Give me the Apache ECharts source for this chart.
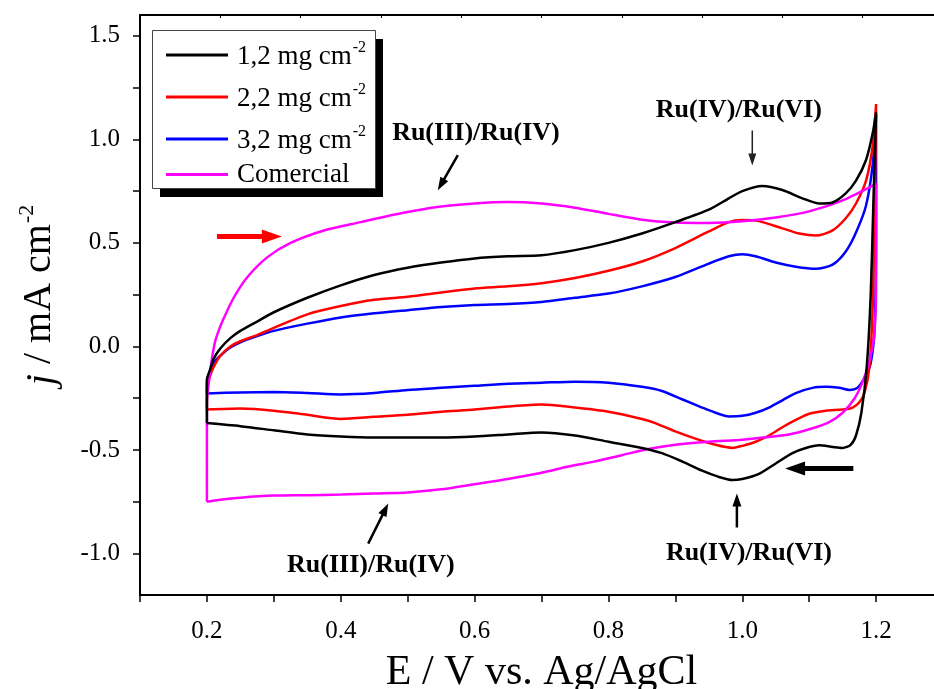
<!DOCTYPE html>
<html><head><meta charset="utf-8">
<script src="https://cdn.jsdelivr.net/npm/echarts@6/dist/echarts.min.js"></script>
<style>html,body{margin:0;padding:0;background:#fff}#c{width:934px;height:689px}</style>
</head><body><div id="c"></div>
<script>
// ---------- data (E / V vs Ag/AgCl, j / mA cm^-2) ----------
const seriesNames = ['1,2 mg cm-2', '2,2 mg cm-2', '3,2 mg cm-2', 'Comercial'];
const seriesColors = ['#000000', '#ff0000', '#0000ff', '#ff00ff'];

const cv12 = [[0.2,-0.37],[0.2,-0.16],[0.205,-0.11],[0.21,-0.06],[0.22,-0.01],[0.235,0.04],[0.25,0.075],[0.275,0.12],[0.3,0.165],[0.35,0.235],[0.4,0.295],[0.45,0.345],[0.5,0.38],[0.55,0.405],[0.6,0.425],[0.65,0.435],[0.7,0.44],[0.75,0.465],[0.8,0.5],[0.85,0.545],[0.9,0.6],[0.95,0.66],[0.98,0.715],[1.0,0.75],[1.03,0.775],[1.06,0.755],[1.09,0.715],[1.115,0.69],[1.135,0.695],[1.155,0.74],[1.17,0.8],[1.185,0.9],[1.195,1.03],[1.2,1.13],
  [1.196,0.7],[1.192,0.25],[1.186,-0.1],[1.178,-0.32],[1.17,-0.43],[1.162,-0.475],[1.15,-0.49],[1.135,-0.485],[1.115,-0.477],[1.095,-0.49],[1.075,-0.515],[1.05,-0.565],[1.025,-0.615],[1.0,-0.64],[0.985,-0.645],[0.965,-0.63],[0.94,-0.6],[0.91,-0.555],[0.88,-0.515],[0.85,-0.49],[0.8,-0.46],[0.75,-0.43],[0.7,-0.415],[0.65,-0.425],[0.6,-0.435],[0.55,-0.44],[0.5,-0.44],[0.45,-0.44],[0.4,-0.435],[0.35,-0.425],[0.3,-0.405],[0.25,-0.385],[0.2,-0.37]];

const cv22 = [[0.2,-0.305],[0.2,-0.2],[0.205,-0.14],[0.21,-0.1],[0.22,-0.045],[0.235,0.0],[0.25,0.025],[0.275,0.055],[0.3,0.09],[0.35,0.155],[0.4,0.195],[0.45,0.225],[0.5,0.24],[0.55,0.26],[0.6,0.28],[0.65,0.29],[0.7,0.305],[0.75,0.33],[0.8,0.365],[0.85,0.41],[0.9,0.475],[0.95,0.555],[0.98,0.6],[1.0,0.61],[1.025,0.605],[1.06,0.57],[1.085,0.545],[1.11,0.535],[1.135,0.56],[1.155,0.62],[1.17,0.69],[1.185,0.8],[1.195,0.97],[1.2,1.17],
  [1.198,0.7],[1.195,0.2],[1.19,-0.1],[1.183,-0.22],[1.175,-0.27],[1.165,-0.295],[1.15,-0.305],[1.125,-0.31],[1.1,-0.325],[1.08,-0.355],[1.06,-0.39],[1.04,-0.43],[1.02,-0.46],[1.0,-0.48],[0.985,-0.49],[0.96,-0.475],[0.93,-0.445],[0.9,-0.41],[0.87,-0.37],[0.85,-0.35],[0.8,-0.315],[0.75,-0.295],[0.7,-0.28],[0.65,-0.29],[0.6,-0.305],[0.55,-0.315],[0.5,-0.33],[0.45,-0.34],[0.4,-0.35],[0.35,-0.33],[0.3,-0.31],[0.25,-0.3],[0.2,-0.305]];

const cv32 = [[0.2,-0.227],[0.2,-0.17],[0.205,-0.12],[0.21,-0.08],[0.22,-0.045],[0.235,-0.005],[0.25,0.02],[0.275,0.05],[0.3,0.075],[0.35,0.11],[0.4,0.14],[0.45,0.16],[0.5,0.175],[0.55,0.19],[0.6,0.2],[0.65,0.205],[0.7,0.215],[0.75,0.235],[0.8,0.255],[0.85,0.29],[0.9,0.335],[0.95,0.4],[0.98,0.435],[1.0,0.445],[1.02,0.435],[1.05,0.405],[1.08,0.385],[1.11,0.375],[1.135,0.395],[1.155,0.46],[1.17,0.55],[1.185,0.68],[1.195,0.88],[1.2,1.12],
  [1.2,0.6],[1.198,0.1],[1.192,-0.08],[1.183,-0.15],[1.172,-0.2],[1.16,-0.21],[1.145,-0.2],[1.125,-0.195],[1.105,-0.2],[1.08,-0.225],[1.06,-0.26],[1.04,-0.295],[1.02,-0.32],[1.0,-0.335],[0.98,-0.338],[0.96,-0.32],[0.94,-0.295],[0.91,-0.255],[0.88,-0.215],[0.85,-0.195],[0.8,-0.175],[0.75,-0.17],[0.7,-0.175],[0.65,-0.18],[0.6,-0.19],[0.55,-0.2],[0.5,-0.21],[0.45,-0.225],[0.4,-0.232],[0.35,-0.225],[0.3,-0.22],[0.25,-0.222],[0.2,-0.227]];

const cvCom = [[0.2,-0.75],[0.2,-0.27],[0.203,-0.17],[0.207,-0.07],[0.212,0.02],[0.218,0.08],[0.225,0.135],[0.24,0.235],[0.26,0.333],[0.29,0.43],[0.325,0.5],[0.375,0.56],[0.43,0.6],[0.49,0.643],[0.55,0.675],[0.6,0.69],[0.65,0.697],[0.7,0.69],[0.75,0.67],[0.8,0.64],[0.85,0.612],[0.9,0.598],[0.95,0.596],[1.0,0.604],[1.05,0.622],[1.1,0.652],[1.15,0.705],[1.2,0.785],
  [1.2,0.3],[1.197,0.05],[1.19,-0.07],[1.18,-0.17],[1.168,-0.25],[1.15,-0.32],[1.13,-0.365],[1.1,-0.4],[1.07,-0.425],[1.03,-0.44],[1.0,-0.45],[0.95,-0.46],[0.9,-0.475],[0.86,-0.495],[0.82,-0.525],[0.78,-0.555],[0.74,-0.58],[0.7,-0.61],[0.65,-0.64],[0.6,-0.665],[0.55,-0.69],[0.5,-0.705],[0.45,-0.71],[0.4,-0.715],[0.35,-0.718],[0.3,-0.72],[0.25,-0.73],[0.22,-0.74],[0.2,-0.75]];

const seriesData = [cv12, cv22, cv32, cvCom];

// ticks and labels
const xTickValues = [0.1,0.2,0.3,0.4,0.5,0.6,0.7,0.8,0.9,1.0,1.1,1.2,1.3];
const xLabelValues = [0.2,0.4,0.6,0.8,1.0,1.2];
const topTickValues = [0.22,0.34,0.46,0.58,0.70,0.82,0.94,1.06,1.18];
const yTickValues = [-1.0,-0.75,-0.5,-0.25,0,0.25,0.5,0.75,1.0,1.25,1.5];
const yLabelValues = [-1.0,-0.5,0,0.5,1.0,1.5];

// annotations (data coordinates)
const annoTexts = [
  {text:'Ru(III)/Ru(IV)', at:[0.602,1.029]},
  {text:'Ru(IV)/Ru(VI)', at:[0.995,1.14]},
  {text:'Ru(III)/Ru(IV)', at:[0.445,-1.058]},
  {text:'Ru(IV)/Ru(VI)', at:[1.01,-1.0]}
];
const annoArrows = [
  {from:[0.575,0.923], to:[0.545,0.754], w:2.5, hl:13, hw:9, color:'#000'},
  {from:[1.015,1.043], to:[1.015,0.874], w:1.5, hl:12, hw:8, color:'#222'},
  {from:[0.441,-0.952], to:[0.471,-0.758], w:2.5, hl:13, hw:9, color:'#000'},
  {from:[0.992,-0.874], to:[0.992,-0.71], w:2.5, hl:13, hw:9, color:'#000'},
  {from:[0.215,0.531], to:[0.312,0.531], w:5, hl:20, hw:14, color:'#ff0000'},
  {from:[1.166,-0.589], to:[1.064,-0.589], w:5, hl:20, hw:14, color:'#000'}
];

const FONT = '"Liberation Serif", "Times New Roman", serif';
const chart = echarts.init(document.getElementById('c'), null, {renderer:'canvas'});

const legendRich = {
  a: {fontFamily: FONT, fontSize: 27, color: '#000', lineHeight: 30, verticalAlign: 'bottom', padding: [0, 0, 0, 4]},
  c: {fontFamily: FONT, fontSize: 27, color: '#000', lineHeight: 30, padding: [0, 0, 0, 4]},
  s: {fontFamily: FONT, fontSize: 16, color: '#000', lineHeight: 30, verticalAlign: 'top', padding: [0, 0, 14, 1]}
};
const legendFormatter = function (n) {
  const m = n.match(/^(.*) cm-2$/);
  return m ? '{a|' + m[1] + ' cm}{s|-2}' : '{c|' + n + '}';
};
const legendBase = {
  orient: 'vertical', left: 152, itemGap: 12, itemWidth: 62, itemHeight: 3, icon: 'rect',
  backgroundColor: 'transparent', borderWidth: 0, z: 8,
  formatter: legendFormatter,
  textStyle: {fontFamily: FONT, fontSize: 27, color: '#000', rich: legendRich}
};

const option = {
  animation: false,
  backgroundColor: '#fff',
  grid: {left: 140, top: 15, width: 803, bottom: 94, containLabel: false, outerBoundsMode: 'none'},
  legend: [
    Object.assign({}, legendBase, {top: 30, padding: [10, 5, 5, 14], data: seriesNames.slice(0, 3)}),
    Object.assign({}, legendBase, {top: 161, padding: [0, 5, 0, 14], data: seriesNames.slice(3)})
  ],
  xAxis: [{
    type: 'value', min: 0.1, max: 1.3, position: 'bottom',
    name: 'E / V vs. Ag/AgCl', nameLocation: 'middle', nameGap: 57,
    nameTextStyle: {fontFamily: FONT, fontSize: 42, color: '#000'},
    axisLine: {show: true, onZero: false, lineStyle: {color: '#000', width: 2}},
    axisTick: {show: true, inside: false, length: 7, lineStyle: {color: '#000', width: 1.5}, customValues: xTickValues},
    axisLabel: {show: true, margin: 24, fontFamily: FONT, fontSize: 25, color: '#000', customValues: xLabelValues,
      formatter: v => v.toFixed(1)},
    splitLine: {show: false}
  }, {
    type: 'value', min: 0.1, max: 1.3, position: 'top',
    axisLine: {show: true, onZero: false, lineStyle: {color: '#000', width: 2}},
    axisTick: {show: true, inside: true, length: 3, lineStyle: {color: '#000', width: 1}, customValues: topTickValues},
    axisLabel: {show: false},
    splitLine: {show: false}
  }],
  yAxis: [{
    type: 'value', min: -1.2, max: 1.6, position: 'left',
    name: '{i|j} / mA cm{s|-2}', nameLocation: 'middle', nameGap: 78, nameRotate: 90,
    nameTextStyle: {fontFamily: FONT, fontSize: 40, color: '#000', padding: [0, 0, 0, 20],
      rich: {
        i: {fontFamily: FONT, fontSize: 40, fontStyle: 'italic', color: '#000', lineHeight: 46, verticalAlign: 'bottom'},
        s: {fontFamily: FONT, fontSize: 22, color: '#000', lineHeight: 46, verticalAlign: 'top', padding: [0, 0, 18, 1]}
      }},
    axisLine: {show: true, onZero: false, lineStyle: {color: '#000', width: 2}},
    axisTick: {show: true, inside: false, length: 7, lineStyle: {color: '#000', width: 1.5}, customValues: yTickValues},
    axisLabel: {show: true, margin: 20, fontFamily: FONT, fontSize: 25, color: '#000', customValues: yLabelValues,
      formatter: v => v.toFixed(1)},
    splitLine: {show: false}
  }],
  series: seriesNames.map((n, i) => ({
    name: n, type: 'line', xAxisIndex: 0, yAxisIndex: 0,
    data: seriesData[i], showSymbol: false, symbol: 'none',
    smooth: 0.25, smoothMonotone: null,
    lineStyle: {color: seriesColors[i], width: 2.5},
    itemStyle: {color: seriesColors[i]},
    z: i === 3 ? 3 : 4 - i
  }))
};
chart.setOption(option);

function arrowPoly(p0, p1, w, hl, hw) {
  const dx = p1[0] - p0[0], dy = p1[1] - p0[1];
  const L = Math.hypot(dx, dy), ux = dx / L, uy = dy / L, nx = -uy, ny = ux;
  const bx = p1[0] - ux * hl, by = p1[1] - uy * hl;
  return [[p0[0] + nx * w / 2, p0[1] + ny * w / 2], [bx + nx * w / 2, by + ny * w / 2], [bx + nx * hw / 2, by + ny * hw / 2],
    [p1[0], p1[1]], [bx - nx * hw / 2, by - ny * hw / 2], [bx - nx * w / 2, by - ny * w / 2], [p0[0] - nx * w / 2, p0[1] - ny * w / 2]];
}
const toPx = p => chart.convertToPixel({xAxisIndex: 0, yAxisIndex: 0}, p);
const graphics = [
  // legend frame with its offset black shadow
  {type: 'rect', z: 5, shape: {x: 160, y: 39, width: 223, height: 158}, style: {fill: '#000'}},
  {type: 'rect', z: 6, shape: {x: 152.5, y: 30.5, width: 223, height: 158}, style: {fill: '#fff', stroke: '#444', lineWidth: 1}}
];
annoTexts.forEach(a => {
  const p = toPx(a.at);
  graphics.push({type: 'text', x: p[0], y: p[1], z: 10,
    style: {text: a.text, font: 'bold 26px ' + FONT, fill: '#000', textAlign: 'center', textVerticalAlign: 'middle'}});
});
annoArrows.forEach(a => {
  graphics.push({type: 'polygon', z: 10, shape: {points: arrowPoly(toPx(a.from), toPx(a.to), a.w, a.hl, a.hw)}, style: {fill: a.color}});
});
chart.setOption({graphic: graphics});
</script></body></html>
